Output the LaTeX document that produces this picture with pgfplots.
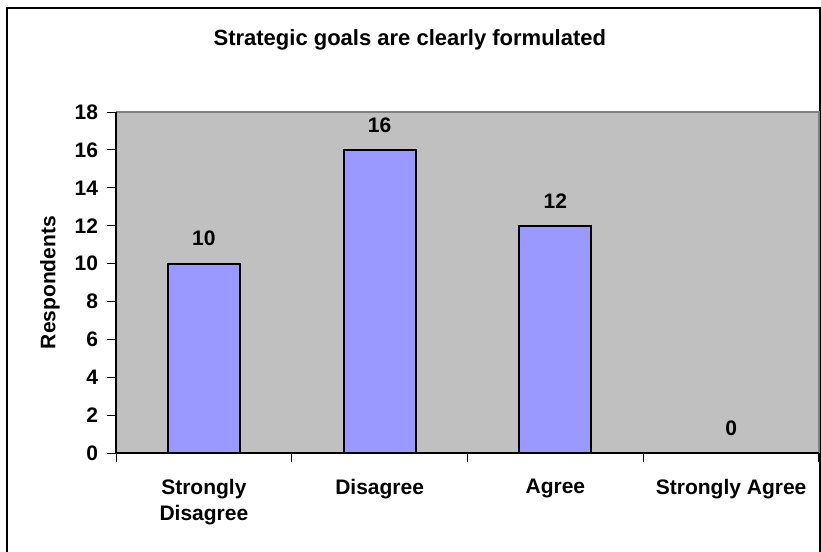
\documentclass[border=0pt]{standalone}
\usepackage{fontspec}
\setmainfont{Liberation Sans}
\usepackage{pgfplots}
\pgfplotsset{compat=1.18}
\definecolor{plotbg}{HTML}{C0C0C0}
\definecolor{barfill}{HTML}{9999FF}
\definecolor{framegray}{HTML}{808080}
\begin{document}
\begin{tikzpicture}
\useasboundingbox (0,0) rectangle (410.5pt,-276pt);
\draw[black, line width=1pt] (3.5pt,-300pt) -- (3.5pt,-4pt) -- (410pt,-4pt) -- (410pt,-300pt);
\begin{axis}[
  at={(58pt,-226.5pt)}, anchor=south west,
  scale only axis,
  width=351.5pt, height=170.5pt,
  xmin=-0.5, xmax=3.5,
  ymin=0, ymax=18,
  ytick={0,2,...,18},
  xtick={0,1,2,3},
  minor xtick={-0.5,0.5,1.5,2.5,3.5},
  xtick pos=bottom, ytick pos=left,
  xticklabels={{Strongly\\Disagree},{Disagree},{Agree},{Strongly Agree}},
  major x tick style={draw=none},
  minor x tick style={black, line width=0.5pt},
  y tick style={black, line width=0.5pt},
  tick align=outside,
  major tick length=4.5pt,
  minor tick length=4.5pt,
  /pgf/number format/assume math mode=true,
  ticklabel style={font=\fontsize{10.5}{13}\selectfont\bfseries},
  yticklabel style={xshift=-1pt},
  xticklabel style={align=center, yshift=-5pt},
  axis line style={draw=none},
  axis background/.style={fill=plotbg},
  ylabel={Respondents},
  ylabel style={font=\fontsize{10.5}{13}\selectfont\bfseries, at={(axis description cs:-0.094,0.5)}, anchor=center, rotate=0},
  every axis title shift=0pt,
  title={Strategic goals are clearly formulated},
  title style={font=\fontsize{11}{13}\selectfont\bfseries, at={(axis description cs:0.418,1.211)}, anchor=center},
  ybar,
  bar width=36pt,
  nodes near coords,
  every node near coord/.append style={font=\fontsize{10.5}{13}\selectfont\bfseries, yshift=5pt},
  clip=false,
]
\addplot[fill=barfill, draw=black, line width=1pt] coordinates {(0,10) (1,16) (2,12) (3,0)};
\draw[framegray, line width=0.75pt] (rel axis cs:0,1) -- (rel axis cs:1,1) -- (rel axis cs:1,0);
\draw[black, line width=0.6pt] (rel axis cs:0,1) -- (rel axis cs:0,0) -- (rel axis cs:1,0);
\end{axis}
\end{tikzpicture}
\end{document}
